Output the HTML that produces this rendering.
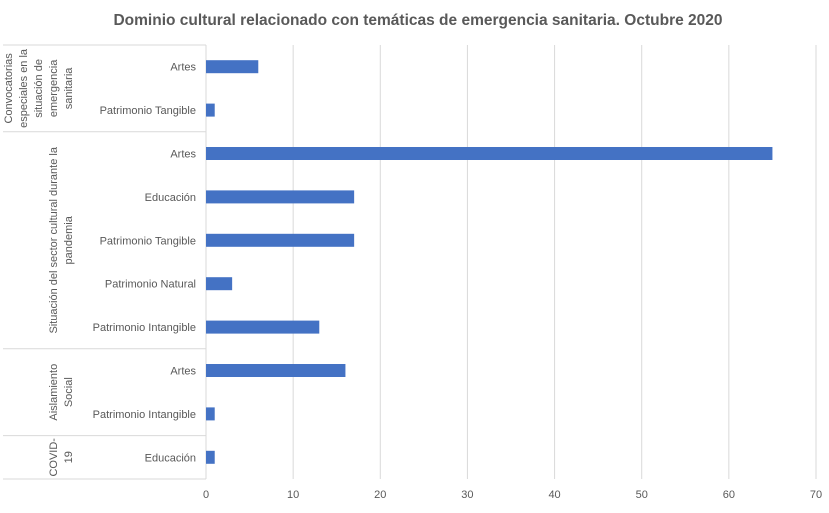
<!DOCTYPE html>
<html><head><meta charset="utf-8"><style>
body{margin:0;background:#fff;font-family:"Liberation Sans",sans-serif}
svg text{font-family:"Liberation Sans",sans-serif}
</style></head><body>
<svg id="c" width="829" height="508">
<text x="418" y="25" text-anchor="middle" font-size="15.5" font-weight="bold" fill="#595959">Dominio cultural relacionado con temáticas de emergencia sanitaria. Octubre 2020</text>
<g id="grid"></g><g id="bars"></g><g id="labels"></g>
</svg>
<script>
const categories=["Artes","Patrimonio Tangible","Artes","Educación","Patrimonio Tangible","Patrimonio Natural","Patrimonio Intangible","Artes","Patrimonio Intangible","Educación"];
const values=[6,1,65,17,17,3,13,16,1,1];
const ticks=[0,10,20,30,40,50,60,70];
const groups=[["Convocatorias","especiales en la","situación de","emergencia","sanitaria"],["Situación del sector cultural durante la","pandemia"],["Aislamiento","Social"],["COVID-","19"]];
const groupSizes=[2,5,2,1];
const NS="http://www.w3.org/2000/svg";
const x0=206,x1=816,yTop=45,yBot=479,rowH=(yBot-yTop)/categories.length;
const xs=v=>x0+v/70*(x1-x0);
function mk(p,t,a){const e=document.createElementNS(NS,t);for(const k in a)e.setAttribute(k,a[k]);document.getElementById(p).appendChild(e);return e;}
ticks.forEach(t=>{
 const l=mk('grid','line',{x1:xs(t),x2:xs(t),y1:yTop,y2:yBot,stroke:'#d9d9d9'});
 
 
 const tx=mk('labels','text',{x:xs(t),y:498,'text-anchor':'middle','font-size':11,fill:'#595959'});tx.textContent=t;
 
 
});
categories.forEach((c,i)=>{
 const cy=yTop+rowH*(i+0.5);
 const r=mk('bars','rect',{x:x0,y:cy-6.5,width:xs(values[i])-x0,height:13,fill:'#4472c4'});
 
 
 const t=mk('labels','text',{x:196,y:cy+4,'text-anchor':'end','font-size':11,fill:'#595959'});t.textContent=c;
 
 
});
let start=0;
const div0=mk('grid','line',{x1:3,x2:x0,y1:yTop,y2:yTop,stroke:'#d9d9d9'});


groups.forEach((g,gi)=>{
 const end=start+groupSizes[gi];
 const yc=yTop+rowH*(start+end)/2;
 const yb=yTop+rowH*end;
 const d=mk('grid','line',{x1:3,x2:x0,y1:yb,y2:yb,stroke:'#d9d9d9'});
 
 
 const n=g.length;
 g.forEach((line,li)=>{
  const x=72-(n-1-li)*15;
  const t=mk('labels','text',{x:x,y:yc,'text-anchor':'middle','font-size':11,fill:'#595959',transform:`rotate(-90 ${x} ${yc})`});t.textContent=line;
  
  
 });
 start=end;
});
const ax=mk('grid','line',{x1:x0,x2:x0,y1:yTop,y2:yBot,stroke:'#d9d9d9'});


</script>
</body></html>
